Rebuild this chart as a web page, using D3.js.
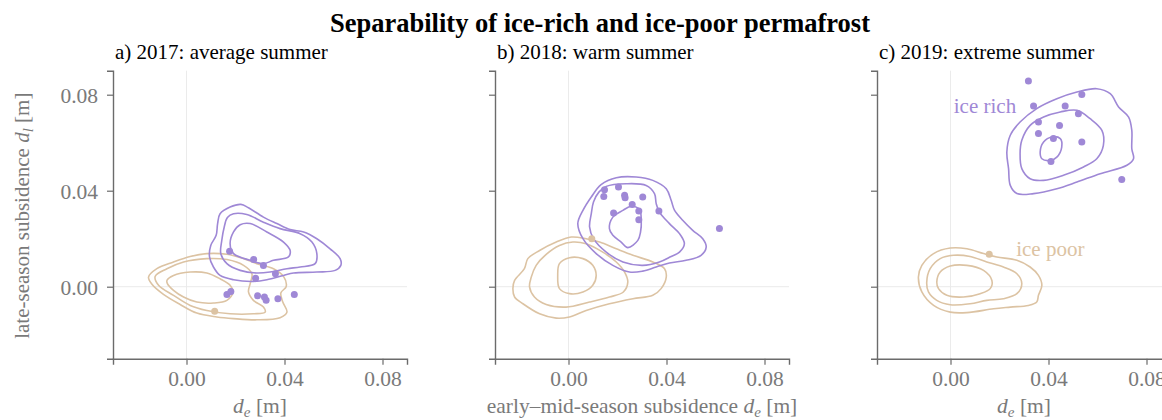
<!DOCTYPE html>
<html><head><meta charset="utf-8">
<script src="https://cdn.jsdelivr.net/npm/d3@7"></script>
<style>
html,body{margin:0;padding:0;background:#fff;}
text{font-family:"Liberation Serif","Times New Roman",serif;}
</style></head>
<body><svg id="chart" width="1162" height="420"></svg>
<script>
// ---------- data ----------
const chartTitle = "Separability of ice-rich and ice-poor permafrost";
const panelTitles = ["a) 2017: average summer", "b) 2018: warm summer", "c) 2019: extreme summer"];
const xLabelTexts = ["", "early\u2013mid-season subsidence ", ""];
const yLabelText = "late-season subsidence ";
const axisDomain = [-0.03, 0.09];
const xTickValues = [0, 0.04, 0.08];
const yTickValues = [0, 0.04, 0.08];

// ice-rich points (d_e, d_l) per year
const rich2017 = [[0.0176,0.0148],[0.0274,0.0113],[0.0314,0.0088],[0.0363,0.0054],[0.0282,0.0035],
  [0.0165,-0.0032],[0.0181,-0.0020],[0.0290,-0.0038],[0.0318,-0.0043],[0.0325,-0.0056],[0.0373,-0.0050],[0.0440,-0.0033]];
const rich2018 = [[0.0147,0.0404],[0.0144,0.0376],[0.0204,0.0415],[0.0229,0.0381],[0.0231,0.0371],[0.0303,0.0374],
  [0.0260,0.0342],[0.0287,0.0315],[0.0184,0.0307],[0.0287,0.0279],[0.0369,0.0315],[0.0616,0.0242]];
const rich2019 = [[0.0318,0.0857],[0.0339,0.0753],[0.0468,0.0753],[0.0536,0.0801],[0.0522,0.0721],[0.0359,0.0686],
  [0.0445,0.0672],[0.0359,0.0638],[0.0420,0.0617],[0.0536,0.0603],[0.0410,0.0522],[0.0699,0.0447]];
// ice-poor points
const poor2017 = [[0.0115,-0.0102]];
const poor2018 = [[0.0095,0.0200]];
const poor2019 = [[0.0158,0.0135]];

// density contours (outer, middle, inner) traced in data units
const richContours2017 = [
  [[0.0222,0.0343],[0.0253,0.0329],[0.0314,0.0290],[0.0369,0.0263],[0.0423,0.0238],[0.0478,0.0228],[0.0532,0.0200],
   [0.0586,0.0158],[0.0627,0.0117],[0.0630,0.0089],[0.0607,0.0068],[0.0532,0.0061],[0.0437,0.0057],[0.0396,0.0047],
   [0.0328,0.0029],[0.0273,0.0022],[0.0192,0.0029],[0.0137,0.0047],[0.0110,0.0082],[0.0094,0.0124],[0.0099,0.0172],
   [0.0121,0.0214],[0.0127,0.0263],[0.0137,0.0304],[0.0178,0.0332]],
  [[0.0192,0.0304],[0.0246,0.0301],[0.0314,0.0269],[0.0382,0.0242],[0.0464,0.0221],[0.0512,0.0186],[0.0532,0.0138],
   [0.0525,0.0096],[0.0464,0.0082],[0.0410,0.0075],[0.0341,0.0061],[0.0287,0.0057],[0.0219,0.0068],[0.0165,0.0096],
   [0.0140,0.0138],[0.0144,0.0193],[0.0154,0.0249],[0.0167,0.0288]],
  [[0.0219,0.0258],[0.0260,0.0263],[0.0328,0.0228],[0.0396,0.0186],[0.0423,0.0151],[0.0416,0.0124],[0.0355,0.0110],
   [0.0314,0.0096],[0.0260,0.0110],[0.0192,0.0138],[0.0178,0.0179],[0.0192,0.0228]]
];
const poorContours2017 = [
  [[-0.0155,0.0040],[-0.0121,0.0075],[-0.0053,0.0103],[0.0015,0.0126],[0.0083,0.0138],[0.0165,0.0135],[0.0233,0.0117],
   [0.0287,0.0096],[0.0355,0.0075],[0.0396,0.0043],[0.0407,0.0001],[0.0385,-0.0026],[0.0393,-0.0064],[0.0410,-0.0106],
   [0.0382,-0.0129],[0.0287,-0.0138],[0.0192,-0.0133],[0.0124,-0.0126],[0.0042,-0.0110],[-0.0026,-0.0074],
   [-0.0094,-0.0032],[-0.0141,0.0010]],
  [[-0.0128,0.0043],[-0.0080,0.0075],[-0.0012,0.0103],[0.0083,0.0117],[0.0165,0.0113],[0.0233,0.0089],[0.0267,0.0054],
   [0.0260,0.0013],[0.0253,-0.0022],[0.0273,-0.0057],[0.0314,-0.0085],[0.0321,-0.0106],[0.0273,-0.0113],[0.0178,-0.0113],
   [0.0083,-0.0099],[0.0015,-0.0078],[-0.0053,-0.0036],[-0.0114,0.0006]],
  [[-0.0080,0.0026],[-0.0053,0.0047],[0.0015,0.0061],[0.0083,0.0057],[0.0137,0.0033],[0.0178,0.0006],[0.0189,-0.0022],
   [0.0165,-0.0057],[0.0110,-0.0068],[0.0042,-0.0064],[-0.0012,-0.0043],[-0.0053,-0.0015],[-0.0078,0.0013]]
];
const richContours2018 = [
  [[0.0195,0.0454],[0.0276,0.0457],[0.0344,0.0443],[0.0399,0.0408],[0.0419,0.0360],[0.0433,0.0318],[0.0467,0.0276],
   [0.0507,0.0235],[0.0548,0.0200],[0.0562,0.0165],[0.0541,0.0131],[0.0480,0.0110],[0.0412,0.0099],[0.0358,0.0082],
   [0.0303,0.0065],[0.0249,0.0061],[0.0181,0.0089],[0.0113,0.0138],[0.0059,0.0200],[0.0038,0.0263],[0.0059,0.0318],
   [0.0093,0.0374],[0.0133,0.0425]],
  [[0.0154,0.0418],[0.0235,0.0429],[0.0317,0.0422],[0.0351,0.0388],[0.0358,0.0346],[0.0371,0.0311],[0.0412,0.0263],
   [0.0453,0.0221],[0.0473,0.0179],[0.0453,0.0144],[0.0419,0.0126],[0.0371,0.0103],[0.0303,0.0089],[0.0222,0.0103],
   [0.0154,0.0144],[0.0102,0.0200],[0.0086,0.0249],[0.0093,0.0304],[0.0102,0.0353],[0.0124,0.0394]],
  [[0.0167,0.0242],[0.0181,0.0290],[0.0222,0.0318],[0.0256,0.0335],[0.0290,0.0321],[0.0297,0.0276],[0.0294,0.0228],
   [0.0283,0.0193],[0.0242,0.0163],[0.0215,0.0186],[0.0181,0.0214]]
];
const poorContours2018 = [
  [[-0.0227,-0.0008],[-0.0220,0.0026],[-0.0180,0.0075],[-0.0166,0.0117],[-0.0118,0.0151],[-0.0050,0.0186],[0.0011,0.0207],
   [0.0072,0.0200],[0.0127,0.0186],[0.0195,0.0158],[0.0263,0.0131],[0.0344,0.0103],[0.0392,0.0075],[0.0399,0.0040],
   [0.0378,-0.0008],[0.0344,-0.0036],[0.0263,-0.0050],[0.0167,-0.0071],[0.0072,-0.0099],[0.0004,-0.0126],
   [-0.0050,-0.0131],[-0.0118,-0.0113],[-0.0186,-0.0071],[-0.0220,-0.0043]],
  [[-0.0159,-0.0001],[-0.0152,0.0040],[-0.0132,0.0089],[-0.0091,0.0135],[-0.0037,0.0172],[0.0018,0.0186],[0.0072,0.0179],
   [0.0140,0.0144],[0.0195,0.0103],[0.0229,0.0061],[0.0242,0.0019],[0.0224,-0.0022],[0.0167,-0.0043],[0.0086,-0.0064],
   [-0.0010,-0.0085],[-0.0091,-0.0074],[-0.0139,-0.0043]],
  [[-0.0044,0.0047],[-0.0037,0.0096],[0.0004,0.0121],[0.0059,0.0117],[0.0099,0.0089],[0.0113,0.0047],[0.0099,0.0006],
   [0.0059,-0.0022],[0.0004,-0.0029],[-0.0037,-0.0008]]
];
const richContours2019 = [
  [[0.0230,0.0561],[0.0244,0.0631],[0.0284,0.0686],[0.0352,0.0742],[0.0434,0.0783],[0.0516,0.0811],[0.0597,0.0825],
   [0.0652,0.0804],[0.0686,0.0749],[0.0727,0.0707],[0.0740,0.0651],[0.0740,0.0575],[0.0747,0.0533],[0.0720,0.0506],
   [0.0611,0.0471],[0.0516,0.0436],[0.0434,0.0408],[0.0339,0.0388],[0.0271,0.0388],[0.0244,0.0422],[0.0237,0.0492]],
  [[0.0284,0.0554],[0.0291,0.0610],[0.0325,0.0672],[0.0380,0.0707],[0.0448,0.0728],[0.0516,0.0735],[0.0570,0.0700],
   [0.0618,0.0651],[0.0624,0.0589],[0.0597,0.0533],[0.0543,0.0499],[0.0461,0.0464],[0.0380,0.0443],[0.0325,0.0450],
   [0.0291,0.0492]],
  [[0.0366,0.0561],[0.0380,0.0603],[0.0414,0.0624],[0.0448,0.0617],[0.0454,0.0582],[0.0434,0.0540],[0.0407,0.0526],
   [0.0373,0.0533]]
];
const poorContours2019 = [
  [[-0.0131,0.0040],[-0.0117,0.0089],[-0.0069,0.0138],[-0.0001,0.0161],[0.0067,0.0158],[0.0135,0.0138],[0.0189,0.0124],
   [0.0271,0.0110],[0.0325,0.0082],[0.0359,0.0047],[0.0373,0.0006],[0.0359,-0.0036],[0.0352,-0.0064],[0.0318,-0.0078],
   [0.0244,-0.0085],[0.0176,-0.0092],[0.0067,-0.0108],[-0.0001,-0.0106],[-0.0069,-0.0078],[-0.0117,-0.0022]],
  [[-0.0097,0.0019],[-0.0083,0.0075],[-0.0042,0.0117],[0.0012,0.0131],[0.0080,0.0126],[0.0148,0.0103],[0.0216,0.0082],
   [0.0271,0.0054],[0.0291,0.0013],[0.0271,-0.0029],[0.0216,-0.0050],[0.0148,-0.0057],[0.0080,-0.0071],[-0.0001,-0.0075],
   [-0.0056,-0.0057],[-0.0090,-0.0022]],
  [[-0.0056,0.0019],[-0.0042,0.0061],[-0.0001,0.0086],[0.0067,0.0089],[0.0135,0.0068],[0.0169,0.0026],[0.0162,-0.0008],
   [0.0121,-0.0029],[0.0053,-0.0043],[-0.0015,-0.0036],[-0.0049,-0.0008]]
];
// class labels (panel c)
const classLabels = ["ice rich", "ice poor"];
const classLabelPos = [[0.0268, 0.0722], [0.0268, 0.0130]];

// ---------- drawing ----------
const richColor = "#9f88d6", poorColor = "#dcc3a3";
const svg = d3.select("#chart");
const panelLeft = [113, 495, 877], pw = 294, plotTop = 70.7, plotBottom = 358.7;

const richPts = [rich2017, rich2018, rich2019];
const poorPts = [poor2017, poor2018, poor2019];
const richC = [richContours2017, richContours2018, richContours2019];
const poorC = [poorContours2017, poorContours2018, poorContours2019];

svg.append("text").attr("x", 600).attr("y", 32).attr("text-anchor", "middle")
  .attr("font-size", 26.5).attr("font-weight", "bold").attr("fill", "#000").text(chartTitle);

panelTitles.forEach((t, i) => {
  const x = d3.scaleLinear().domain(axisDomain).range([panelLeft[i], panelLeft[i] + pw]);
  const y = d3.scaleLinear().domain(axisDomain).range([plotBottom, plotTop]);
  const g = svg.append("g");

  // zero lines
  g.append("line").attr("x1", x(0)).attr("x2", x(0)).attr("y1", plotTop).attr("y2", plotBottom)
    .attr("stroke", "#ebebeb").attr("stroke-width", 1);
  g.append("line").attr("x1", x(axisDomain[0])).attr("x2", x(axisDomain[1])).attr("y1", y(0)).attr("y2", y(0))
    .attr("stroke", "#ebebeb").attr("stroke-width", 1);

  // axes
  const xa = g.append("g").attr("transform", `translate(0,${plotBottom})`)
    .call(d3.axisBottom(x).tickValues(xTickValues).tickFormat(d3.format(".2f")).tickSize(6).tickPadding(6));
  const ya = g.append("g").attr("transform", `translate(${panelLeft[i]},0)`)
    .call(d3.axisLeft(y).tickValues(yTickValues).tickFormat(i === 0 ? d3.format(".2f") : () => "").tickSize(6).tickPadding(9));
  [xa, ya].forEach(a => {
    a.select(".domain").attr("stroke", "#6b6b6b").attr("stroke-width", 1.4);
    a.selectAll(".tick line").attr("stroke", "#6b6b6b").attr("stroke-width", 1.2);
    a.selectAll(".tick text").attr("fill", "#7a7a7a").attr("font-size", 21.5)
      .attr("font-family", "'Liberation Serif', serif");
  });
  ya.selectAll(".tick text").attr("dy", "0.34em");

  const line = d3.line().x(d => x(d[0])).y(d => y(d[1])).curve(d3.curveCatmullRomClosed.alpha(0.5));
  g.selectAll(".pc").data(poorC[i]).join("path").attr("d", line)
    .attr("fill", "none").attr("stroke", poorColor).attr("stroke-width", 1.6);
  g.selectAll(".rc").data(richC[i]).join("path").attr("d", line)
    .attr("fill", "none").attr("stroke", richColor).attr("stroke-width", 1.6);

  g.selectAll(".rp").data(richPts[i]).join("circle")
    .attr("cx", d => x(d[0])).attr("cy", d => y(d[1])).attr("r", 3.5).attr("fill", richColor);
  g.selectAll(".pp").data(poorPts[i]).join("circle")
    .attr("cx", d => x(d[0])).attr("cy", d => y(d[1])).attr("r", 3.5).attr("fill", poorColor);

  // panel title
  g.append("text").attr("x", panelLeft[i] + 2).attr("y", 59).attr("font-size", 21).attr("fill", "#000").text(t);

  // x label
  const xl = g.append("text").attr("x", panelLeft[i] + pw / 2).attr("y", 413).attr("text-anchor", "middle")
    .attr("font-size", 21.5).attr("fill", "#7a7a7a");
  xl.append("tspan").text(xLabelTexts[i]);
  xl.append("tspan").attr("font-style", "italic").text("d");
  xl.append("tspan").attr("font-style", "italic").attr("font-size", 15).attr("dy", 4).text("e");
  xl.append("tspan").attr("dy", -4).text(" [m]");

  if (i === 0) {
    const yl = g.append("text").attr("transform", `translate(29,${(plotTop + plotBottom) / 2 + 1}) rotate(-90)`)
      .attr("text-anchor", "middle").attr("font-size", 21).attr("fill", "#7a7a7a");
    yl.append("tspan").text(yLabelText);
    yl.append("tspan").attr("font-style", "italic").text("d");
    yl.append("tspan").attr("font-style", "italic").attr("font-size", 15).attr("dy", 4).text("l");
    yl.append("tspan").attr("dy", -4).text(" [m]");
  }

  if (i === 2) {
    g.append("text").attr("x", x(classLabelPos[0][0])).attr("y", y(classLabelPos[0][1]))
      .attr("text-anchor", "end").attr("font-size", 21).attr("fill", richColor).text(classLabels[0]);
    g.append("text").attr("x", x(classLabelPos[1][0])).attr("y", y(classLabelPos[1][1]))
      .attr("text-anchor", "start").attr("font-size", 21).attr("fill", poorColor).text(classLabels[1]);
  }
});
</script></body></html>
